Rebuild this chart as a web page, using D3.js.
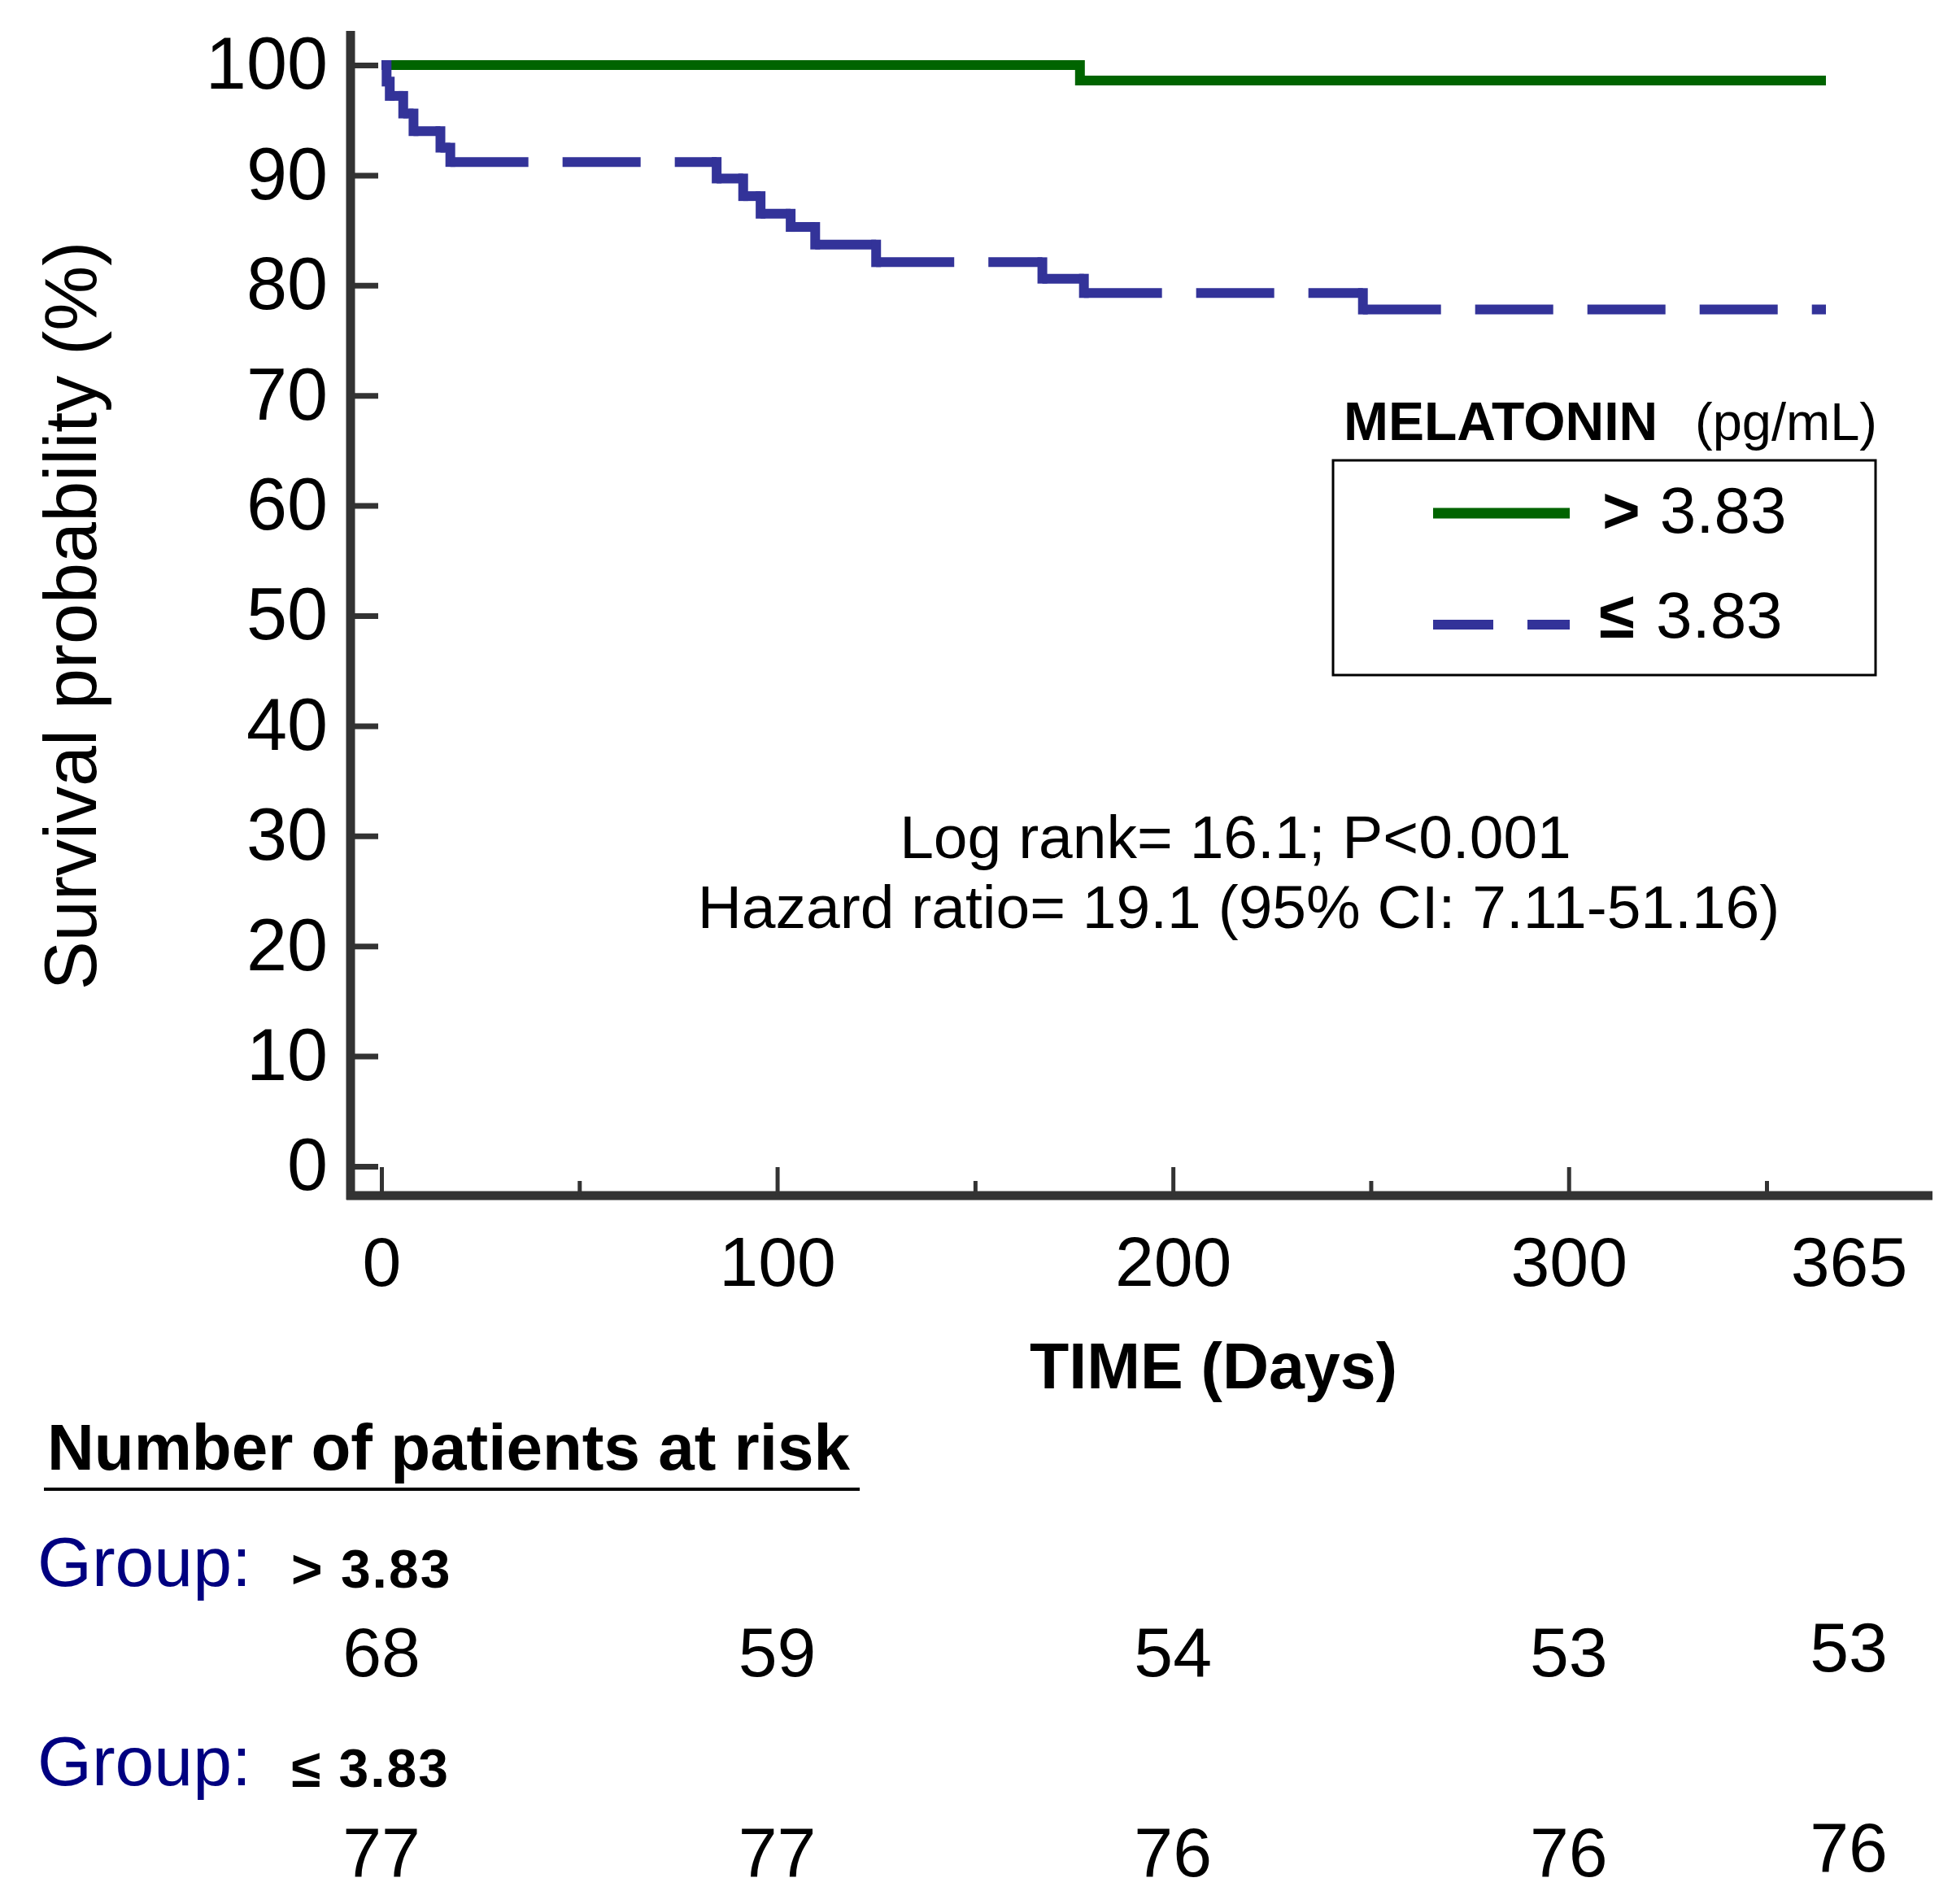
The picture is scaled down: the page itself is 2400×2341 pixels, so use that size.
<!DOCTYPE html>
<html>
<head>
<meta charset="utf-8">
<script src="https://cdn.jsdelivr.net/npm/d3@7"></script>
<style>
  body { margin: 0; background: #fff; }
  svg { display: block; }
  text { font-family: "Liberation Sans", Arial, sans-serif; }
</style>
</head>
<body>
<svg width="2400" height="2341"></svg>
<script>
// data
const highDays = [0, 176.5, 365];
const highSurv = [100, 98.6, 98.6];
const lowDays = [0, 1.3, 2.1, 5.5, 8.1, 14.9, 17.4, 84.7, 91.4, 95.8, 103.4, 109.6, 125, 167, 177.5, 248, 365];
const lowSurv = [100, 98.5, 97.2, 95.6, 94.0, 92.5, 91.2, 89.7, 88.1, 86.5, 85.3, 83.7, 82.1, 80.6, 79.3, 77.8, 77.8];
const yTicks = [0, 10, 20, 30, 40, 50, 60, 70, 80, 90, 100];
const xMajor = [0, 100, 200, 300];
const xMinor = [50, 150, 250, 350];
const xLabels = [0, 100, 200, 300, 365];
const riskHigh = [68, 59, 54, 53, 53];
const riskLow = [77, 77, 76, 76, 76];

const svg = d3.select("svg");
const axisColor = "#333333";
const green = "#006400";
const blue = "#333399";

const x = d3.scaleLinear().domain([0, 365]).range([469, 2245]);
const y = d3.scaleLinear().domain([0, 100]).range([1434, 80]);

// 축 선
const axisX0 = 431, axisY0 = 1470;
svg.append("line")
  .attr("x1", axisX0).attr("x2", axisX0)
  .attr("y1", 38).attr("y2", axisY0 + 5)
  .attr("stroke", axisColor).attr("stroke-width", 11);
svg.append("line")
  .attr("x1", axisX0 - 5).attr("x2", 2376)
  .attr("y1", axisY0).attr("y2", axisY0)
  .attr("stroke", axisColor).attr("stroke-width", 11);

// y 축 눈금
const yAxis = svg.append("g")
  .attr("transform", `translate(${axisX0},0)`)
  .call(d3.axisLeft(y).tickValues(yTicks).tickSize(-34).tickPadding(28));
yAxis.select(".domain").remove();
yAxis.selectAll(".tick line").attr("stroke", axisColor).attr("stroke-width", 7);
yAxis.selectAll(".tick text")
  .attr("font-size", 90).attr("fill", "#000")
  .style("font-family", '"Liberation Sans", Arial, sans-serif');

// x 축 눈금 (큰 것)
const xAxis = svg.append("g")
  .attr("transform", `translate(0,${axisY0})`)
  .call(d3.axisBottom(x).tickValues(xLabels).tickSize(-35).tickPadding(50));
xAxis.select(".domain").remove();
xAxis.selectAll(".tick line").attr("stroke", axisColor).attr("stroke-width", 5)
  .filter(d => d === 365).remove();
xAxis.selectAll(".tick text")
  .attr("font-size", 86).attr("fill", "#000")
  .style("font-family", '"Liberation Sans", Arial, sans-serif');
xAxis.selectAll(".tick").filter(d => d === 365).select("text").attr("x", 28);

// x 축 눈금 (작은 것)
const xAxisMinor = svg.append("g")
  .attr("transform", `translate(0,${axisY0})`)
  .call(d3.axisBottom(x).tickValues(xMinor).tickSize(-18).tickFormat(""));
xAxisMinor.select(".domain").remove();
xAxisMinor.selectAll(".tick line").attr("stroke", axisColor).attr("stroke-width", 5);

// 축 제목
svg.append("text")
  .attr("transform", "translate(118,757) rotate(-90)")
  .attr("text-anchor", "middle")
  .attr("font-size", 90)
  .text("Survival probability (%)");

svg.append("text")
  .attr("x", 1492).attr("y", 1707)
  .attr("text-anchor", "middle")
  .attr("font-size", 79).attr("font-weight", "bold")
  .text("TIME (Days)");

// 생존 곡선 (> 3.83)
const highPts = highDays.map((d, i) => [d, highSurv[i]]);
svg.append("path")
  .datum(highPts)
  .attr("d", d3.line().x(d => x(d[0])).y(d => y(d[1])).curve(d3.curveStepAfter))
  .attr("fill", "none")
  .attr("stroke", green)
  .attr("stroke-width", 12)
  .attr("stroke-linejoin", "miter");

// 생존 곡선 (≤ 3.83) - 가로선은 점선, 세로선은 실선
const lowG = svg.append("g");
for (let i = 0; i < lowDays.length - 1; i++) {
  lowG.append("line")
    .attr("x1", x(lowDays[i])).attr("x2", x(lowDays[i + 1]))
    .attr("y1", y(lowSurv[i])).attr("y2", y(lowSurv[i]))
    .attr("stroke", blue).attr("stroke-width", 12)
    .attr("stroke-dasharray", "96 42");
  if (lowSurv[i + 1] !== lowSurv[i]) {
    lowG.append("line")
      .attr("x1", x(lowDays[i + 1])).attr("x2", x(lowDays[i + 1]))
      .attr("y1", y(lowSurv[i])).attr("y2", y(lowSurv[i + 1]))
      .attr("stroke", blue).attr("stroke-width", 12)
      .attr("stroke-linecap", "square");
  }
}

// 범례
svg.append("text")
  .attr("x", 1652).attr("y", 541)
  .attr("font-size", 66).attr("font-weight", "bold")
  .text("MELATONIN");
svg.append("text")
  .attr("x", 2084).attr("y", 541)
  .attr("font-size", 65)
  .text("(pg/mL)");

svg.append("rect")
  .attr("x", 1639).attr("y", 566)
  .attr("width", 667).attr("height", 264)
  .attr("fill", "none").attr("stroke", "#000").attr("stroke-width", 3);

svg.append("line")
  .attr("x1", 1762).attr("x2", 1930).attr("y1", 631).attr("y2", 631)
  .attr("stroke", green).attr("stroke-width", 13);
svg.append("line")
  .attr("x1", 1762).attr("x2", 1930).attr("y1", 768).attr("y2", 768)
  .attr("stroke", blue).attr("stroke-width", 12)
  .attr("stroke-dasharray", "74 42");

const leg1 = svg.append("text").attr("x", 1970).attr("y", 655).attr("font-size", 80);
leg1.append("tspan").attr("font-weight", "bold").text(">");
leg1.append("tspan").attr("dx", 24).text("3.83");
const leg2 = svg.append("text").attr("x", 1966).attr("y", 784).attr("font-size", 80);
leg2.append("tspan").attr("font-weight", "bold").text("≤");
leg2.append("tspan").attr("dx", 26).text("3.83");

// 통계 문구
svg.append("text")
  .attr("x", 1519).attr("y", 1055)
  .attr("text-anchor", "middle")
  .attr("font-size", 75)
  .text("Log rank= 16.1; P<0.001");
svg.append("text")
  .attr("x", 1523).attr("y", 1141)
  .attr("text-anchor", "middle")
  .attr("font-size", 75)
  .text("Hazard ratio= 19.1 (95% CI: 7.11-51.16)");

// 위험군 환자 수 표
svg.append("text")
  .attr("x", 58).attr("y", 1807)
  .attr("font-size", 80).attr("font-weight", "bold")
  .text("Number of patients at risk");
svg.append("line")
  .attr("x1", 54).attr("x2", 1057).attr("y1", 1831).attr("y2", 1831)
  .attr("stroke", "#000").attr("stroke-width", 4);

function groupLabel(yPos, sym) {
  svg.append("text")
    .attr("x", 46).attr("y", yPos)
    .attr("font-size", 86).attr("fill", "#000080")
    .text("Group:");
  svg.append("text")
    .attr("x", 358).attr("y", yPos + 2)
    .attr("font-size", 66).attr("font-weight", "bold")
    .attr("letter-spacing", 2)
    .text(sym + " 3.83");
}
groupLabel(1950, ">");
groupLabel(2195, "≤");

function riskRow(values, yPos) {
  svg.append("g").selectAll("text")
    .data(values)
    .join("text")
    .attr("x", (d, i) => x(xLabels[i]) + (xLabels[i] === 365 ? 28 : 0))
    .attr("y", (d, i) => yPos - (xLabels[i] === 365 ? 6 : 0))
    .attr("text-anchor", "middle")
    .attr("font-size", 86)
    .text(d => d);
}
riskRow(riskHigh, 2061);
riskRow(riskLow, 2307);
</script>
</body>
</html>
